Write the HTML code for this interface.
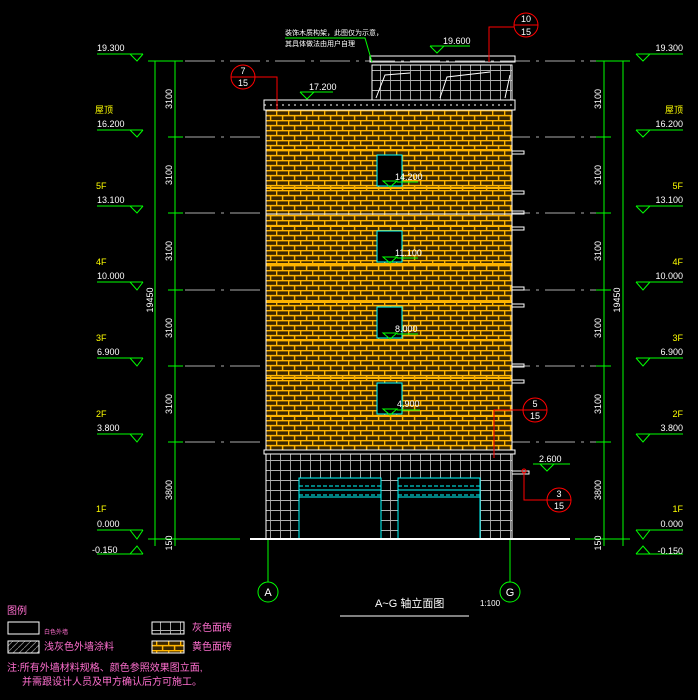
<!DOCTYPE html>
<html><head><meta charset="utf-8"><style>
body{margin:0;background:#000;width:698px;height:700px;overflow:hidden}
svg{display:block}
text{font-family:"Liberation Sans","Noto Sans CJK SC",sans-serif}
</style></head><body>
<svg width="698" height="700" viewBox="0 0 698 700">
<defs>
<pattern id="brick" width="12" height="10" patternUnits="userSpaceOnUse">
<rect width="12" height="10" fill="#3a2600"/>
<path d="M0 0.6H12M0 5.6H12M0.6 0V5M6.6 5V10" stroke="#ffb400" stroke-width="1.5"/>
</pattern>
<pattern id="grid" width="10" height="10" patternUnits="userSpaceOnUse">
<path d="M0 0.5H10M0.5 0V10" stroke="#b0b0b0" stroke-width="0.9"/>
</pattern>
<pattern id="hatch" width="6" height="6" patternUnits="userSpaceOnUse">
<path d="M0 6L6 0" stroke="#888" stroke-width="0.8"/>
</pattern>
</defs>
<g stroke="#aaa" stroke-width="1" stroke-dasharray="30 6 3 6">
<line x1="185" y1="61" x2="600" y2="61"/><line x1="185" y1="137" x2="600" y2="137"/>
<line x1="185" y1="213" x2="600" y2="213"/><line x1="185" y1="290" x2="600" y2="290"/>
<line x1="185" y1="366" x2="600" y2="366"/><line x1="185" y1="442" x2="600" y2="442"/>
</g>
<rect x="266" y="110" width="246" height="340" fill="url(#brick)"/>
<g stroke="#ffb400" stroke-width="2"><line x1="266" y1="150" x2="512" y2="150"/><line x1="266" y1="226" x2="512" y2="226"/><line x1="266" y1="302" x2="512" y2="302"/><line x1="266" y1="378" x2="512" y2="378"/><line x1="266" y1="188" x2="512" y2="188"/><line x1="266" y1="264" x2="512" y2="264"/><line x1="266" y1="340" x2="512" y2="340"/><line x1="266" y1="416" x2="512" y2="416"/></g>
<line x1="266" y1="214" x2="512" y2="214" stroke="#fff" stroke-width="1"/>
<line x1="266" y1="110" x2="266" y2="450" stroke="#fff"/><line x1="512" y1="110" x2="512" y2="450" stroke="#fff"/>
<rect x="264" y="100" width="251" height="10" fill="none" stroke="#fff"/>
<line x1="264" y1="105" x2="515" y2="105" stroke="#fff" stroke-dasharray="2 4"/>
<rect x="372" y="65" width="140" height="35" fill="url(#grid)" stroke="#fff"/>
<rect x="370" y="56" width="145" height="6" fill="none" stroke="#fff"/>
<path d="M376 98L385 75L410 73M440 98L447 77L490 72M505 98L510 75" stroke="#fff" fill="none"/>
<g fill="#000" stroke="#0ff" stroke-width="1">
<rect x="377" y="155" width="25" height="31"/><rect x="377" y="231" width="25" height="31"/>
<rect x="377" y="307" width="25" height="31"/><rect x="377" y="383" width="25" height="31"/>
</g>
<g stroke="#fff" stroke-width="1"><rect x="512" y="151" width="12" height="3" fill="none"/><rect x="512" y="191" width="12" height="3" fill="none"/><rect x="512" y="211" width="12" height="3" fill="none"/><rect x="512" y="227" width="12" height="3" fill="none"/><rect x="512" y="287" width="12" height="3" fill="none"/><rect x="512" y="304" width="12" height="3" fill="none"/><rect x="512" y="364" width="12" height="3" fill="none"/><rect x="512" y="380" width="12" height="3" fill="none"/></g>
<g fill="#fff" font-size="9">
<text x="395" y="180">14.200</text><text x="395" y="256">11.100</text><text x="395" y="332">8.000</text><text x="397" y="407">4.900</text>
</g>
<g stroke="#0f0" fill="none"><path d="M383 181L390 187L397 181ZM383 257L390 263L397 257ZM383 333L390 339L397 333ZM383 409L390 415L397 409Z"/><path d="M397 182H418M397 258H418M397 334H418M397 410H420"/></g>
<rect x="266" y="453" width="246" height="86" fill="url(#grid)" stroke="#fff"/>
<rect x="264" y="450" width="251" height="4" fill="#000" stroke="#fff"/>
<g stroke="#0ff" fill="#000"><rect x="299" y="478" width="82" height="61"/><rect x="398" y="478" width="82" height="61"/></g>
<g stroke="#0ff"><line x1="299" y1="486" x2="381" y2="486" stroke-dasharray="4 2"/><line x1="299" y1="490" x2="381" y2="490"/><line x1="299" y1="495" x2="381" y2="495" stroke-dasharray="4 2"/><line x1="299" y1="497" x2="381" y2="497"/>
<line x1="398" y1="486" x2="480" y2="486" stroke-dasharray="4 2"/><line x1="398" y1="490" x2="480" y2="490"/><line x1="398" y1="495" x2="480" y2="495" stroke-dasharray="4 2"/><line x1="398" y1="497" x2="480" y2="497"/></g>
<rect x="512" y="471" width="17" height="3" fill="none" stroke="#fff"/>
<line x1="250" y1="539" x2="570" y2="539" stroke="#fff" stroke-width="2"/>
<g stroke="#0f0" fill="none"><line x1="268" y1="540" x2="268" y2="582"/><circle cx="268" cy="592" r="10"/><line x1="510" y1="540" x2="510" y2="582"/><circle cx="510" cy="592" r="10"/></g>
<g fill="#fff" font-size="11" text-anchor="middle"><text x="268" y="596">A</text><text x="510" y="596">G</text></g>
<text x="375" y="607" fill="#fff" font-size="11">A~G 轴立面图</text>
<text x="480" y="606" fill="#fff" font-size="8">1:100</text>
<line x1="340" y1="616" x2="469" y2="616" stroke="#fff"/>
<g stroke="#0f0"><line x1="155" y1="61" x2="155" y2="546"/><line x1="175" y1="61" x2="175" y2="546"/><line x1="604" y1="61" x2="604" y2="546"/><line x1="623" y1="61" x2="623" y2="546"/>
<line x1="148" y1="61" x2="183" y2="61"/><line x1="168" y1="137" x2="183" y2="137"/><line x1="168" y1="213" x2="183" y2="213"/><line x1="168" y1="290" x2="183" y2="290"/><line x1="168" y1="366" x2="183" y2="366"/><line x1="168" y1="442" x2="183" y2="442"/><line x1="148" y1="539" x2="240" y2="539"/>
<line x1="596" y1="61" x2="630" y2="61"/><line x1="596" y1="137" x2="611" y2="137"/><line x1="596" y1="213" x2="611" y2="213"/><line x1="596" y1="290" x2="611" y2="290"/><line x1="596" y1="366" x2="611" y2="366"/><line x1="596" y1="442" x2="611" y2="442"/><line x1="575" y1="539" x2="630" y2="539"/></g>
<g fill="#fff" font-size="9" text-anchor="middle">
<text transform="translate(172,99) rotate(-90)">3100</text><text transform="translate(172,175) rotate(-90)">3100</text><text transform="translate(172,251) rotate(-90)">3100</text><text transform="translate(172,328) rotate(-90)">3100</text><text transform="translate(172,404) rotate(-90)">3100</text><text transform="translate(172,490) rotate(-90)">3800</text><text transform="translate(172,543) rotate(-90)">150</text><text transform="translate(153,300) rotate(-90)">19450</text>
<text transform="translate(601,99) rotate(-90)">3100</text><text transform="translate(601,175) rotate(-90)">3100</text><text transform="translate(601,251) rotate(-90)">3100</text><text transform="translate(601,328) rotate(-90)">3100</text><text transform="translate(601,404) rotate(-90)">3100</text><text transform="translate(601,490) rotate(-90)">3800</text><text transform="translate(601,543) rotate(-90)">150</text><text transform="translate(620,300) rotate(-90)">19450</text>
</g>
<g stroke="#0f0" fill="none">
<path d="M97 54H143M130 54L137 61L143 54M97 130H143M130 130L137 137L143 130M97 206H143M130 206L137 213L143 206M97 282H143M130 282L137 290L143 282M97 358H143M130 358L137 366L143 358M97 434H143M130 434L137 442L143 434M97 530H143M130 530L137 539L143 530M97 554H143M130 554L137 546L143 554"/>
<path d="M636 54H683M636 54L643 61L650 54M636 130H683M636 130L643 137L650 130M636 206H683M636 206L643 213L650 206M636 282H683M636 282L643 290L650 282M636 358H683M636 358L643 366L650 358M636 434H683M636 434L643 442L650 434M636 530H683M636 530L643 539L650 530M636 554H683M636 554L643 546L650 554"/>
<path d="M300 92H333M300 92L307 99L314 92M430 46H470M430 46L437 53L444 46M533 464H570M540 464L547 471L554 464"/>
</g>
<g fill="#fff" font-size="9">
<text x="97" y="51">19.300</text><text x="97" y="127">16.200</text><text x="97" y="203">13.100</text><text x="97" y="279">10.000</text><text x="97" y="355">6.900</text><text x="97" y="431">3.800</text><text x="97" y="527">0.000</text><text x="92" y="553">-0.150</text>
<text x="683" y="51" text-anchor="end">19.300</text><text x="683" y="127" text-anchor="end">16.200</text><text x="683" y="203" text-anchor="end">13.100</text><text x="683" y="279" text-anchor="end">10.000</text><text x="683" y="355" text-anchor="end">6.900</text><text x="683" y="431" text-anchor="end">3.800</text><text x="683" y="527" text-anchor="end">0.000</text><text x="683" y="554" text-anchor="end">-0.150</text>
<text x="309" y="90">17.200</text><text x="443" y="44">19.600</text><text x="539" y="462">2.600</text>
</g>
<g fill="#ff0" font-size="9">
<text x="95" y="113">屋顶</text><text x="96" y="189">5F</text><text x="96" y="265">4F</text><text x="96" y="341">3F</text><text x="96" y="417">2F</text><text x="96" y="512">1F</text>
<text x="683" y="113" text-anchor="end">屋顶</text><text x="683" y="189" text-anchor="end">5F</text><text x="683" y="265" text-anchor="end">4F</text><text x="683" y="341" text-anchor="end">3F</text><text x="683" y="417" text-anchor="end">2F</text><text x="683" y="512" text-anchor="end">1F</text>
</g>
<g fill="#fff" font-size="7"><text x="285" y="35">装饰木质构架，此图仅为示意，</text><text x="285" y="46">其具体做法由用户自理</text></g>
<path d="M285 38H365L372 62" stroke="#0f0" fill="none"/>
<g stroke="#f00" fill="none">
<circle cx="243" cy="77" r="12"/><line x1="231" y1="77" x2="255" y2="77"/><path d="M255 77H277V110"/>
<circle cx="526" cy="25" r="12"/><line x1="514" y1="25" x2="538" y2="25"/><path d="M514 27H489V62"/>
<circle cx="535" cy="410" r="12"/><line x1="523" y1="410" x2="547" y2="410"/><path d="M523 410H494V458"/>
<circle cx="559" cy="500" r="12"/><line x1="547" y1="500" x2="571" y2="500"/><path d="M547 500H524V472"/><circle cx="524" cy="471" r="2"/>
</g>
<g fill="#fff" font-size="9" text-anchor="middle">
<text x="243" y="74">7</text><text x="243" y="86">15</text><text x="526" y="22">10</text><text x="526" y="35">15</text>
<text x="535" y="407">5</text><text x="535" y="419">15</text><text x="559" y="497">3</text><text x="559" y="509">15</text>
</g>
<g fill="#ff6fcf" font-size="10">
<text x="7" y="614">图例</text>
<text x="44" y="634" font-size="6">白色外墙</text>
<text x="44" y="650">浅灰色外墙涂料</text>
<text x="192" y="631">灰色面砖</text><text x="192" y="650">黄色面砖</text>
<text x="7" y="671">注:所有外墙材料规格、颜色参照效果图立面,</text>
<text x="22" y="685">并需跟设计人员及甲方确认后方可施工。</text>
</g>
<rect x="8" y="622" width="31" height="12" fill="none" stroke="#fff"/>
<rect x="8" y="641" width="31" height="12" fill="url(#hatch)" stroke="#fff"/>
<rect x="152" y="622" width="32" height="12" fill="url(#grid)" stroke="#fff"/>
<rect x="152" y="641" width="32" height="12" fill="url(#brick)" stroke="#fff"/>
</svg>
</body></html>
